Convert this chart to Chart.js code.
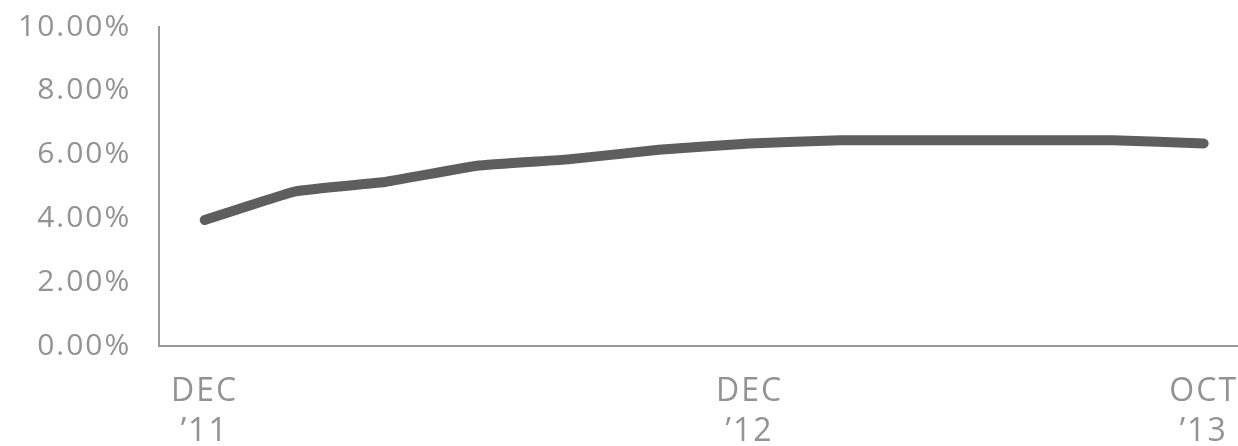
<!DOCTYPE html>
<html>
<head>
<meta charset="utf-8">
<script src="https://cdn.jsdelivr.net/npm/chart.js@4"></script>
<style>
  html, body { margin: 0; padding: 0; background: #fff; }
  #wrap { width: 1238px; height: 446px; }
</style>
</head>
<body>
<div id="wrap"><canvas id="chart"></canvas></div>
<script>
// bi-monthly points, Dec '11 .. Oct '13
const months = ['DEC 11', 'FEB 12', 'APR 12', 'JUN 12', 'AUG 12', 'OCT 12',
                'DEC 12', 'FEB 13', 'APR 13', 'JUN 13', 'AUG 13', 'OCT 13'];
const rates = [3.95, 4.85, 5.15, 5.65, 5.85, 6.15, 6.35, 6.45, 6.45, 6.45, 6.45, 6.35];
const tickIdx = [0, 6, 11];
const tickLabels = [['DEC', '\u201911'], ['DEC', '\u201912'], ['OCT', '\u201913']];

const grey = '#939393';
const fontFamily = "'Open Sans', sans-serif";

// wider text, closer to the original typeface
const spacing = {
  id: 'spacing',
  beforeUpdate: (chart) => { chart.ctx.letterSpacing = '2px'; },
  beforeDraw: (chart) => { chart.ctx.letterSpacing = '2px'; },
};

new Chart(document.getElementById('chart'), {
  type: 'line',
  data: {
    datasets: [{
      label: 'rate',
      data: rates.map((y, i) => ({ x: i, y })),
      borderColor: '#5e5e5e',
      borderWidth: 10,
      borderCapStyle: 'round',
      borderJoinStyle: 'round',
      pointRadius: 0,
      tension: 0.1,
    }],
  },
  plugins: [spacing],
  options: {
    responsive: true,
    maintainAspectRatio: false,
    animation: false,
    layout: { padding: { left: 18, top: 27, right: 0, bottom: -6 } },
    plugins: { legend: { display: false }, tooltip: { enabled: false } },
    scales: {
      x: {
        type: 'linear',
        min: -0.5,
        max: 11.37,
        afterBuildTicks: (axis) => { axis.ticks = tickIdx.map(v => ({ value: v })); },
        grid: { display: true, drawOnChartArea: false, drawTicks: true, tickLength: 26, color: 'rgba(0,0,0,0)' },
        border: { display: true, color: '#9a9a9a', width: 2 },
        ticks: {
          color: grey,
          font: { family: fontFamily, size: 32, weight: 400, lineHeight: 1.25 },
          padding: 0,
          maxRotation: 0,
          autoSkip: false,
          callback: (v) => {
            const k = tickIdx.indexOf(v);
            return k >= 0 ? tickLabels[k] : '';
          },
        },
      },
      y: {
        min: 0,
        max: 10,
        grid: { display: true, drawOnChartArea: false, drawTicks: true, tickLength: 28, color: 'rgba(0,0,0,0)' },
        border: { display: true, color: '#9a9a9a', width: 2 },
        ticks: {
          stepSize: 2,
          color: grey,
          font: { family: fontFamily, size: 30, weight: 400 },
          padding: 0,
          callback: (v) => v.toFixed(2) + '%',
        },
      },
    },
  },
});
</script>
</body>
</html>
